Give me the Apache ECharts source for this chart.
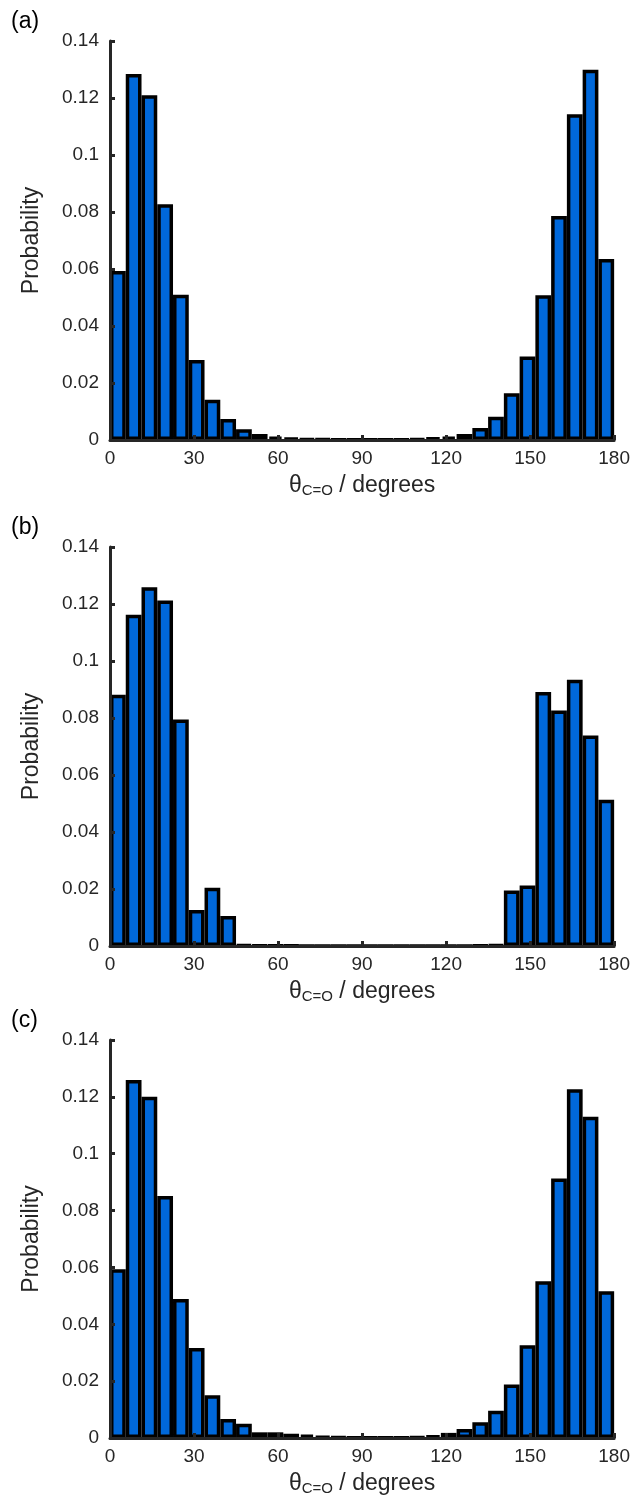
<!DOCTYPE html>
<html>
<head>
<meta charset="utf-8">
<script src="https://cdn.jsdelivr.net/npm/echarts@6/dist/echarts.min.js"></script>
<style>
  html, body { margin: 0; padding: 0; background: #fff; }
  #chart { width: 633px; height: 1497px; }
</style>
</head>
<body>
<div id="chart"></div>
<script>
// 32 equal-width bins spanning 0-180 degrees
const bins = Array.from({ length: 32 }, (_, i) => 'b' + i);

// Probability per bin, panel (a)
const probA = [0.0593, 0.1284, 0.1210, 0.0827, 0.0510, 0.0281, 0.0141, 0.0074,
               0.0038, 0.0021, 0.0012, 0.0007, 0.0004, 0.0003, 0.0002, 0.0001,
               0.0001, 0.0001, 0.0002, 0.0004, 0.0008, 0.0012, 0.0021, 0.0042,
               0.0082, 0.0164, 0.0293, 0.0508, 0.0786, 0.1143, 0.1299, 0.0635];
// Probability per bin, panel (b)
const probB = [0.0882, 0.1162, 0.1259, 0.1212, 0.0795, 0.0126, 0.0204, 0.0105,
               0.0004, 0.0002, 0.0001, 0.0001, 0.0000, 0.0000, 0.0000, 0.0000,
               0.0000, 0.0000, 0.0000, 0.0000, 0.0000, 0.0000, 0.0000, 0.0001,
               0.0003, 0.0195, 0.0212, 0.0891, 0.0826, 0.0934, 0.0739, 0.0513];
// Probability per bin, panel (c)
const probC = [0.0594, 0.1259, 0.1200, 0.0851, 0.0489, 0.0317, 0.0150, 0.0067,
               0.0050, 0.0020, 0.0020, 0.0015, 0.0012, 0.0006, 0.0003, 0.0002,
               0.0001, 0.0001, 0.0001, 0.0003, 0.0008, 0.0018, 0.0032, 0.0055,
               0.0096, 0.0188, 0.0326, 0.0551, 0.0913, 0.1227, 0.1130, 0.0516];

const panelLabels = ['(a)', '(b)', '(c)'];
const series3 = [probA, probB, probC];
const gridTops = [41, 547, 1040];
const gridHeight = 399;

const ink = '#262626';
const font = '"Liberation Sans", Arial, Helvetica, sans-serif';

const grids = [], xAxes = [], yAxes = [], series = [], graphics = [];

series3.forEach((vals, i) => {
  grids.push({ left: 110, right: 15, top: gridTops[i], height: gridHeight });

  // hidden band axis that carries the bins
  xAxes.push({
    type: 'category', gridIndex: i, data: bins, boundaryGap: true,
    show: false
  });
  // visible degree axis
  xAxes.push({
    type: 'value', gridIndex: i, min: 0, max: 180, interval: 30,
    position: 'bottom', z: 5,
    axisLine: { show: true, lineStyle: { color: ink, width: 3 } },
    axisTick: { show: true, inside: true, length: 5, lineStyle: { color: ink, width: 3 } },
    axisLabel: { color: ink, fontSize: 19, fontFamily: font, margin: 9 },
    splitLine: { show: false },
    name: '{t|θ}{s|C=O}{t| / degrees}',
    nameLocation: 'middle', nameGap: 33,
    nameTextStyle: {
      color: ink, fontFamily: font,
      rich: {
        t: { fontSize: 23, color: ink, fontFamily: font },
        s: { fontSize: 15, color: ink, fontFamily: font, padding: [10, 0, 0, 0] }
      }
    }
  });
  yAxes.push({
    type: 'value', gridIndex: i, min: 0, max: 0.14, interval: 0.02, z: 5,
    axisLine: { show: true, lineStyle: { color: ink, width: 3 } },
    axisTick: { show: true, inside: true, length: 5, lineStyle: { color: ink, width: 3 } },
    axisLabel: { color: ink, fontSize: 19, fontFamily: font, margin: 11 },
    splitLine: { show: false },
    name: 'Probability', nameLocation: 'middle', nameGap: 67, nameRotate: 90,
    nameTextStyle: { color: ink, fontSize: 23, fontFamily: font }
  });
  series.push({
    type: 'bar', xAxisIndex: i * 2, yAxisIndex: i, data: vals,
    barCategoryGap: 0, barGap: 0,
    itemStyle: { color: '#0068DA', borderColor: '#000', borderWidth: 3.5 },
    silent: true, animation: false
  });
  graphics.push({
    type: 'text', left: 11, top: gridTops[i] - 31,
    style: { text: panelLabels[i], fill: '#000', font: '23px ' + font }
  });
});

const chart = echarts.init(document.getElementById('chart'), null, { renderer: 'canvas' });
chart.setOption({
  animation: false,
  backgroundColor: '#fff',
  grid: grids,
  xAxis: xAxes,
  yAxis: yAxes,
  series: series,
  graphic: graphics
});
</script>
</body>
</html>
